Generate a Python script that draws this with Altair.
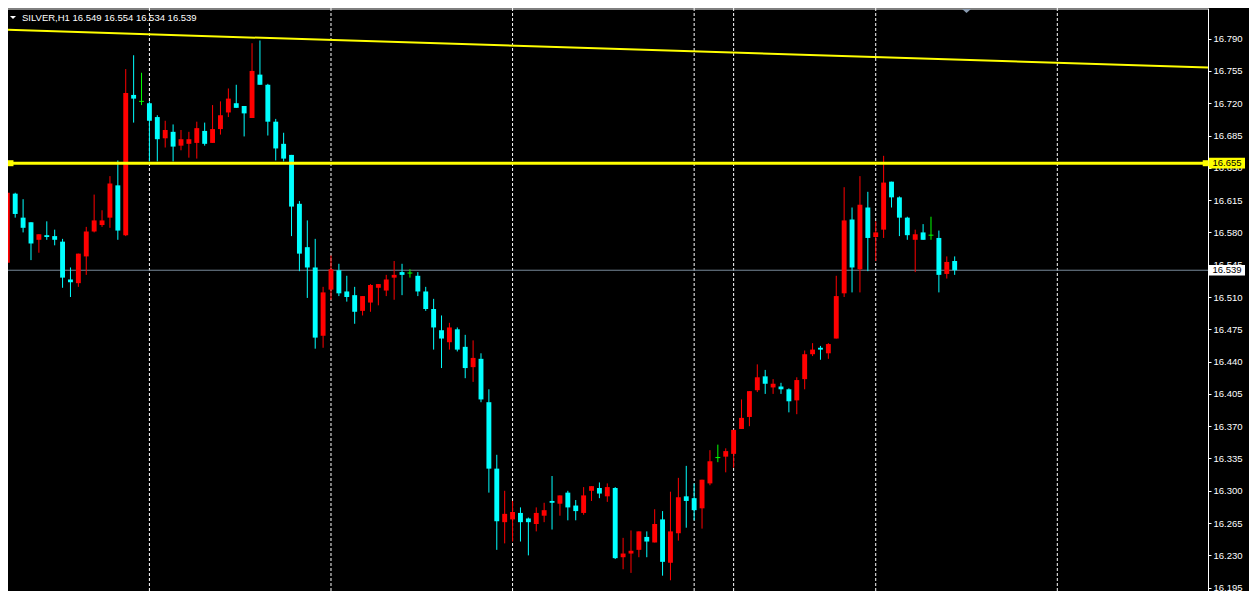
import altair as alt
import pandas as pd

# ---------------- data ----------------
bar = list(range(-1, 120))  # H1 bar positions, left to right

open_ = [16.547, 16.622, 16.596, 16.591, 16.572, 16.577, 16.576, 16.570, 16.529, 16.525,
         16.554, 16.581, 16.588, 16.596, 16.631, 16.577, 16.729, 16.722, 16.720, 16.705,
         16.682, 16.689, 16.674, 16.676, 16.677, 16.690, 16.677, 16.692, 16.710, 16.720,
         16.717, 16.704, 16.751, 16.740, 16.700, 16.676, 16.664, 16.611, 16.564, 16.542,
         16.468, 16.518, 16.539, 16.516, 16.512, 16.495, 16.504, 16.520, 16.517, 16.531,
         16.537, 16.536, 16.533, 16.516, 16.497, 16.474, 16.461, 16.475, 16.456, 16.434,
         16.443, 16.396, 16.324, 16.266, 16.269, 16.276, 16.270, 16.264, 16.273, 16.289,
         16.286, 16.298, 16.284, 16.276, 16.300, 16.303, 16.294, 16.303, 16.228, 16.232,
         16.236, 16.250, 16.244, 16.269, 16.222, 16.254, 16.294, 16.292, 16.281, 16.308,
         16.336, 16.337, 16.340, 16.367, 16.380, 16.409, 16.424, 16.412, 16.413, 16.410,
         16.398, 16.421, 16.448, 16.455, 16.449, 16.465, 16.514, 16.594, 16.540, 16.607,
         16.575, 16.583, 16.635, 16.618, 16.596, 16.572, 16.580, 16.577, 16.574, 16.535,
         16.549]
high = [16.626, 16.623, 16.616, 16.591, 16.578, 16.592, 16.583, 16.573, 16.542, 16.557,
        16.586, 16.621, 16.604, 16.641, 16.658, 16.757, 16.772, 16.753, 16.722, 16.707,
        16.701, 16.697, 16.691, 16.689, 16.700, 16.699, 16.718, 16.722, 16.736, 16.740,
        16.717, 16.785, 16.788, 16.741, 16.703, 16.688, 16.664, 16.614, 16.593, 16.573,
        16.521, 16.555, 16.546, 16.533, 16.521, 16.511, 16.524, 16.524, 16.534, 16.549,
        16.546, 16.540, 16.537, 16.521, 16.508, 16.490, 16.482, 16.477, 16.469, 16.463,
        16.449, 16.410, 16.339, 16.300, 16.289, 16.282, 16.271, 16.282, 16.287, 16.316,
        16.295, 16.300, 16.290, 16.304, 16.305, 16.309, 16.308, 16.304, 16.249, 16.257,
        16.256, 16.256, 16.280, 16.278, 16.299, 16.314, 16.327, 16.308, 16.312, 16.344,
        16.350, 16.346, 16.366, 16.399, 16.408, 16.437, 16.431, 16.421, 16.417, 16.411,
        16.423, 16.452, 16.460, 16.457, 16.460, 16.533, 16.629, 16.607, 16.641, 16.624,
        16.592, 16.663, 16.635, 16.619, 16.597, 16.583, 16.589, 16.597, 16.582, 16.554,
        16.554]
low = [16.544, 16.596, 16.580, 16.550, 16.558, 16.572, 16.566, 16.520, 16.510, 16.521,
       16.534, 16.580, 16.586, 16.585, 16.572, 16.576, 16.699, 16.718, 16.657, 16.657,
       16.672, 16.657, 16.669, 16.661, 16.660, 16.674, 16.677, 16.686, 16.705, 16.715,
       16.684, 16.704, 16.740, 16.685, 16.658, 16.657, 16.576, 16.538, 16.509, 16.454,
       16.455, 16.507, 16.511, 16.505, 16.481, 16.490, 16.494, 16.501, 16.511, 16.507,
       16.512, 16.531, 16.511, 16.495, 16.453, 16.433, 16.453, 16.451, 16.422, 16.418,
       16.396, 16.298, 16.236, 16.243, 16.245, 16.245, 16.230, 16.256, 16.266, 16.258,
       16.273, 16.268, 16.268, 16.274, 16.289, 16.292, 16.288, 16.226, 16.215, 16.211,
       16.228, 16.228, 16.244, 16.208, 16.203, 16.246, 16.260, 16.268, 16.259, 16.306,
       16.331, 16.320, 16.325, 16.367, 16.370, 16.407, 16.405, 16.405, 16.405, 16.385,
       16.383, 16.410, 16.446, 16.442, 16.443, 16.465, 16.510, 16.515, 16.515, 16.538,
       16.549, 16.574, 16.607, 16.576, 16.572, 16.537, 16.572, 16.572, 16.515, 16.530,
       16.534]
close = [16.623, 16.600, 16.585, 16.568, 16.578, 16.575, 16.572, 16.531, 16.526, 16.557,
         16.581, 16.593, 16.593, 16.633, 16.582, 16.731, 16.725, 16.722, 16.701, 16.681,
         16.691, 16.673, 16.681, 16.681, 16.693, 16.676, 16.692, 16.707, 16.725, 16.715,
         16.709, 16.755, 16.740, 16.700, 16.671, 16.660, 16.608, 16.557, 16.542, 16.466,
         16.515, 16.540, 16.514, 16.510, 16.494, 16.511, 16.523, 16.524, 16.529, 16.534,
         16.534, 16.536, 16.516, 16.497, 16.477, 16.465, 16.477, 16.453, 16.433, 16.444,
         16.399, 16.324, 16.267, 16.275, 16.277, 16.266, 16.266, 16.276, 16.279, 16.287,
         16.295, 16.282, 16.278, 16.295, 16.305, 16.297, 16.304, 16.227, 16.232, 16.235,
         16.256, 16.245, 16.264, 16.223, 16.256, 16.293, 16.289, 16.279, 16.312, 16.332,
         16.336, 16.343, 16.366, 16.379, 16.408, 16.423, 16.416, 16.416, 16.410, 16.397,
         16.420, 16.448, 16.453, 16.453, 16.459, 16.511, 16.593, 16.542, 16.610, 16.574,
         16.580, 16.634, 16.618, 16.596, 16.577, 16.578, 16.572, 16.577, 16.534, 16.548,
         16.539]

separators = [17, 40, 63, 86, 91, 109, 132]          # dashed period separators (bar positions)
price_ticks = [16.195, 16.230, 16.265, 16.300, 16.335, 16.370, 16.405, 16.440, 16.475,
               16.510, 16.545, 16.580, 16.615, 16.650, 16.685, 16.720, 16.755, 16.790]
hline_price = 16.655
bid_price = 16.539
hline_anchor_bars = [-0.6, 150.8]
trend_bars = [-0.9125, 151.0875]
trend_prices = [16.7995, 16.7587]
shift_marker_bar = 120.5
header = "SILVER,H1  16.549 16.554 16.534 16.539"

assert len(bar) == len(open_) == len(high) == len(low) == len(close)

# ---------------- chart ----------------
W, H = 1200, 583
x_scale = alt.Scale(domain=[-0.9125, 151.0875], nice=False, zero=False)
y_scale = alt.Scale(domain=[16.1914, 16.8232], nice=False, zero=False)
FONT = "Liberation Sans"
y_axis = alt.Axis(orient="right", values=price_ticks, format=".3f", title=None,
                  grid=False, domainColor="#ffffff", domainWidth=1, tickColor="#ffffff",
                  tickSize=3, tickWidth=1, labelColor="#ffffff", labelFont=FONT,
                  labelFontSize=9.5, labelPadding=2, labelOverlap=False,
                  labelFlush=False, labelBound=False)


def X(f):
    return alt.X(f"{f}:Q", scale=x_scale, axis=None, title=None)


def Y(f):
    return alt.Y(f"{f}:Q", scale=y_scale, axis=y_axis, title=None)


df = pd.DataFrame({"i": bar, "o": open_, "h": high, "l": low, "c": close})
df["dir"] = ["up" if c > o else ("down" if c < o else "doji") for o, c in zip(open_, close)]
df["xl"] = df["i"] - 0.31
df["xr"] = df["i"] + 0.31

color = alt.Color("dir:N", legend=None,
                  scale=alt.Scale(domain=["up", "down", "doji"],
                                  range=["#ff0000", "#00ffff", "#00ff00"]))

seps = alt.Chart(pd.DataFrame({"i": separators})).mark_rule(
    color="#ffffff", strokeDash=[3, 2], strokeWidth=1, clip=True).encode(x=X("i"))

bid = alt.Chart(pd.DataFrame({"p": [bid_price]})).mark_rule(
    color="#778899", strokeWidth=1).encode(y=Y("p"))

wicks = alt.Chart(df).mark_rule(strokeWidth=1, clip=True).encode(
    x=X("i"), y=Y("l"), y2="h", color=color)

bodies = alt.Chart(df[df["dir"] != "doji"]).mark_rect(clip=True).encode(
    x=X("xl"), x2="xr", y=Y("o"), y2="c", color=color)

dojis = alt.Chart(df[df["dir"] == "doji"]).mark_rule(strokeWidth=1, clip=True).encode(
    x=X("xl"), x2="xr", y=Y("c"), color=color)

hline = alt.Chart(pd.DataFrame({"p": [hline_price]})).mark_rule(
    color="#ffff00", strokeWidth=3).encode(y=Y("p"))

anchors = alt.Chart(pd.DataFrame({"i": hline_anchor_bars,
                                  "p": [hline_price] * len(hline_anchor_bars)})).mark_square(
    size=36, color="#ffff00", filled=True, opacity=1).encode(x=X("i"), y=Y("p"))

trend = alt.Chart(pd.DataFrame({"i": trend_bars, "p": trend_prices})).mark_line(
    color="#ffff00", strokeWidth=2, clip=True).encode(x=X("i"), y=Y("p"))

top_border = alt.Chart(pd.DataFrame({"k": [0]})).mark_rule(
    color="#ffffff", strokeWidth=1).encode(x=alt.value(0), x2=alt.value(W), y=alt.value(1))

head_df = pd.DataFrame({"t": [header]})
head_text = alt.Chart(head_df).mark_text(
    align="left", baseline="middle", color="#ffffff", font=FONT, fontSize=9.5).encode(
    x=alt.value(14), y=alt.value(9.5), text="t:N")
head_tri = alt.Chart(head_df).mark_point(
    shape="M-1,-0.5L1,-0.5L0,0.5Z", filled=True, color="#ffffff", opacity=1, size=36).encode(
    x=alt.value(5), y=alt.value(9.5))

shift_marker = alt.Chart(pd.DataFrame({"i": [shift_marker_bar]})).mark_point(
    shape="M-1,-0.45L1,-0.45L0,0.45Z", filled=True, color="#8a9bb0", opacity=1, size=80).encode(
    x=X("i"), y=alt.value(3))

box_df = pd.DataFrame({
    "p": [hline_price, bid_price],
    "label": [f"{hline_price:.3f}", f"{bid_price:.3f}"],
    "fill": ["#ffff00", "#ffffff"],
})
box_df["top"] = box_df["p"] + 0.0058
box_df["bottom"] = box_df["p"] - 0.0058
boxes = alt.Chart(box_df).mark_rect().encode(
    x=alt.value(W + 1), x2=alt.value(W + 37), y=Y("top"), y2="bottom",
    color=alt.Color("fill:N", scale=None))
box_text = alt.Chart(box_df).mark_text(
    align="center", baseline="middle", color="#000000", font=FONT, fontSize=9.5).encode(
    x=alt.value(W + 19), y=Y("p"), text="label:N")

chart = alt.layer(
    seps, bid, wicks, bodies, dojis, hline, anchors, trend, top_border,
    head_text, head_tri, shift_marker, boxes, box_text
).properties(
    width=W, height=H, background="#000000",
    padding={"left": 0, "top": 0, "right": 41, "bottom": 0},
    autosize=alt.AutoSizeParams(type="none"),
).configure_view(stroke=None)

chart.save("out.html", embed_options={"renderer": "svg", "actions": False})
